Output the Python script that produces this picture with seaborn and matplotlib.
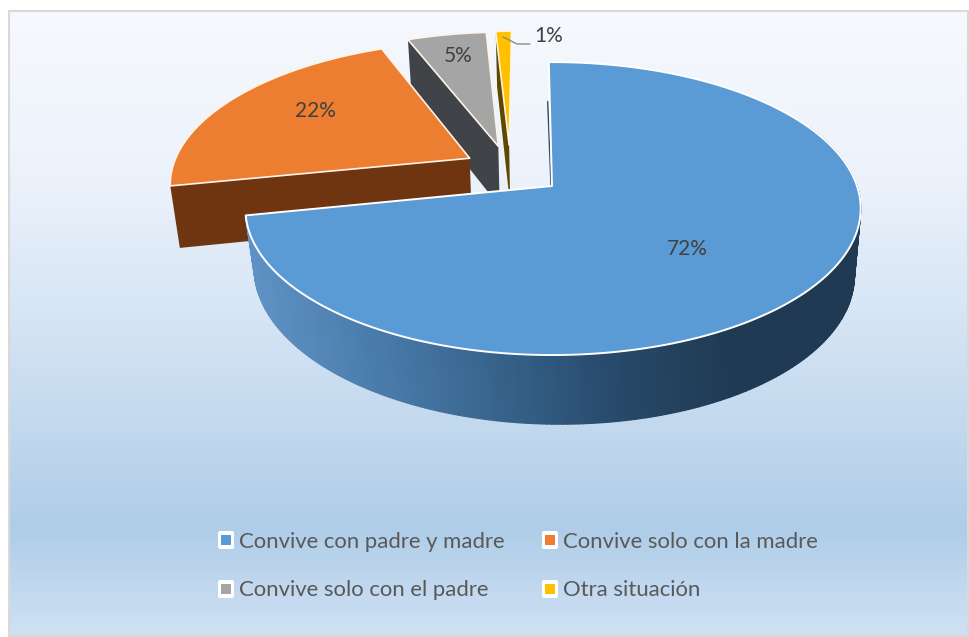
"""Exploded 3D style pie of living situation, drawn on a seaborn styled axes."""

import numpy as np
import matplotlib
matplotlib.use("Agg")
import matplotlib.pyplot as plt
from matplotlib.colors import LinearSegmentedColormap
from matplotlib.patches import FancyBboxPatch, Polygon, Rectangle
import seaborn as sns

categories = ["Convive con padre y madre", "Convive solo con la madre",
              "Convive solo con el padre", "Otra situación"]
values = [72, 22, 5, 1]

top_colors = sns.color_palette(["#5B9BD5", "#ED7D31", "#A5A5A5", "#FFC000"])
side_colors = ["#3F6F9F", "#6E3510", "#404448", "#5E4700"]
blue_side = ["#5F92C4", "#4A7CAB", "#37648C", "#27496A", "#1F3A52", "#1F3A52"]

# exploded offset of every slice in the pie plane (sideways, backwards)
EXPLODE = [(0.0, 0.0), (-0.28, 0.20), (-0.185, 0.29), (-0.148, 0.30)]
LABEL_POS = [(687, 249), (315, 111), (458, 56), (549, 36)]

# pie camera, in image pixels
CX, CY = 552, 186
SX_LEFT, SX_RIGHT, SY, PERSP = 303, 305, 143, 0.154
DEPTH, BOTTOM_SCALE, BOTTOM_SKEW = 62, 0.975, 8
ROTATE = -0.7


def project(u, v, bottom=False):
    """Pie plane coordinates to image pixels."""
    u, v = np.asarray(u, dtype=float), np.asarray(v, dtype=float)
    w = 1 + PERSP * v
    x = np.where(u < 0, SX_LEFT, SX_RIGHT) * u / w
    y = -SY * v / w
    if bottom:
        return (CX + x * BOTTOM_SCALE + BOTTOM_SKEW * np.maximum(-v, 0),
                CY + y * BOTTOM_SCALE + DEPTH / w)
    return CX + x, CY + y


def arc_points(start, stop, offset, n=240):
    theta = np.radians(np.linspace(start, stop, n) + ROTATE)
    return np.sin(theta) + offset[0], np.cos(theta) + offset[1]


sns.set_theme(style="white")
plt.rcParams["font.family"] = ["Lato", "DejaVu Sans"]

fig = plt.figure(figsize=(9.7, 6.37), dpi=100)
ax = fig.add_axes([0, 0, 1, 1])
ax.axis("off")

# card with vertical gradient
fig.patch.set_facecolor("white")
grad = LinearSegmentedColormap.from_list("bg", [
    (0.0, "#F6F9FD"), (0.25, "#EDF3FC"), (0.5, "#D5E4F4"),
    (0.83, "#AFCDE8"), (1.0, "#D0E1F4")])
ax.imshow(np.linspace(0, 1, 256)[:, None], cmap=grad, aspect="auto",
          extent=[9, 968, 636, 11], zorder=0)
ax.add_patch(Rectangle((9, 11), 959, 625, fill=False, ec="#D9D9D9", lw=1.5, zorder=1))
ax.set_xlim(0, 970)
ax.set_ylim(637, 0)

angles = 360 * np.cumsum([0] + values) / sum(values)
slices = [(angles[i], angles[i + 1], EXPLODE[i]) for i in range(len(values))]

# back slices first so the big one sits over them
z = 2
for i in [3, 2, 1]:
    start, stop, off = slices[i]
    u, v = arc_points(start, stop, off)
    ax0, ay0 = project(off[0], off[1])
    bx0, by0 = project(off[0], off[1], bottom=True)
    sx, sy = project(u[0], v[0])
    bx, by = project(u[0], v[0], bottom=True)
    ax.add_patch(Polygon([(sx, sy), (ax0, ay0), (bx0, by0), (bx, by)],
                         fc=side_colors[i], ec="none", zorder=z))
    tx, ty = project(u, v)
    ax.add_patch(Polygon(np.r_[[(ax0, ay0)], np.c_[tx, ty]], fc=top_colors[i],
                         ec="#FFF3E6", lw=1.2, joinstyle="round", zorder=z + 1))
    z += 2

# big slice wall, shaded from left to right
start, stop, off = slices[0]
u, v = arc_points(start, stop, off, n=300)
tx, ty = project(u, v)
bx, by = project(u, v, bottom=True)
shade = sns.blend_palette(blue_side, 300)
for k in range(len(u) - 1):
    if v[k] > 0.45:
        continue
    level = int(np.clip((tx[k] - 247) / (860 - 247), 0, 1) * 299)
    ax.add_patch(Polygon([(tx[k], ty[k]), (tx[k + 1], ty[k + 1]),
                          (bx[k + 1], by[k + 1]), (bx[k], by[k])],
                         fc=shade[level], ec=shade[level], lw=1.0, zorder=z))
z += 1
ax0, ay0 = project(*off)
ax.add_patch(Polygon(np.r_[[(ax0, ay0)], np.c_[tx, ty]], fc=top_colors[0],
                     ec="white", lw=1.4, joinstyle="round", zorder=z))
# thin dark sliver of the wall along the top edge
ux, uy = project(-0.012, 0.65)
ax.plot([ux - 1, ax0 - 1], [uy, ay0], color="#2B4A68", lw=1, zorder=z - 1)
z += 1

text_color = "#404040"
for val, (lx, ly) in zip(values, LABEL_POS):
    ax.text(lx, ly, f"{val}%", ha="center", va="center", fontsize=15,
            color=text_color, zorder=z)
ax.plot([503, 517, 530], [37, 44, 44], color="#8C8C8C", lw=1, zorder=z)

# legend in two rows
legend_pos = [(217, 540), (541, 540), (217, 589), (541, 589)]
for name, color, (lx, ly) in zip(categories, top_colors, legend_pos):
    ax.add_patch(FancyBboxPatch((lx + 1, ly - 9), 16, 18, boxstyle="round,pad=0,rounding_size=2",
                                fc="white", ec="none", zorder=z))
    ax.add_patch(Rectangle((lx + 4, ly - 5), 10, 10, fc=color, ec="none", zorder=z + 1))
    ax.text(lx + 22, ly + 1.5, name, ha="left", va="center", fontsize=15.9,
            color="#595959", zorder=z)

fig.savefig("out.png", dpi=100)
plt.close(fig)
